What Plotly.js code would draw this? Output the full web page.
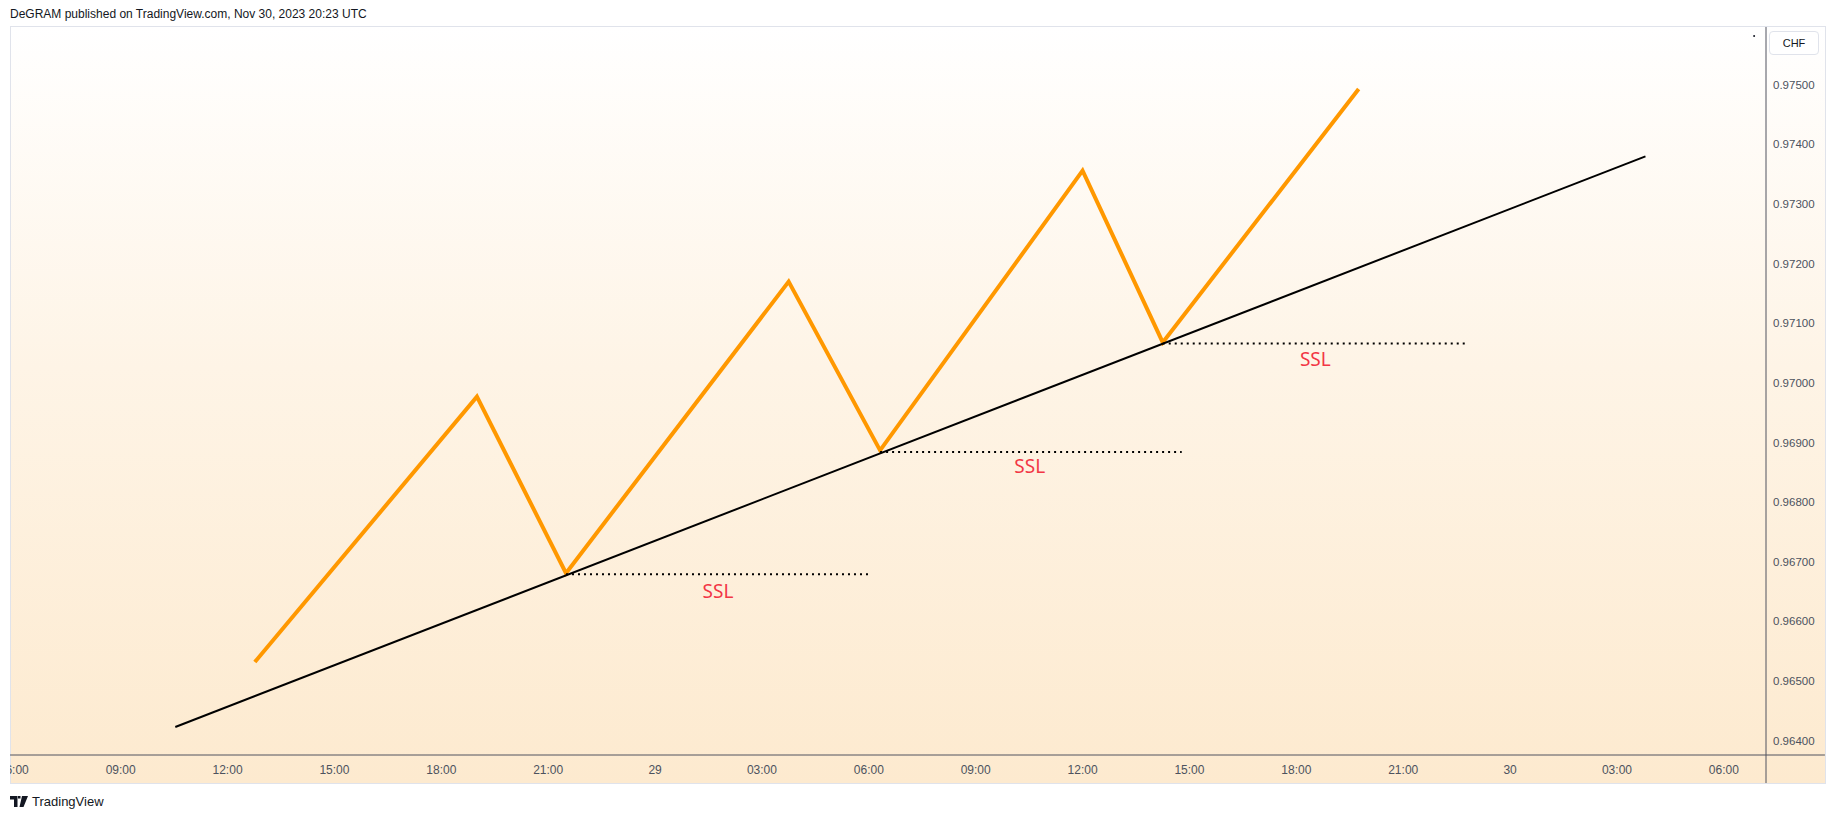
<!DOCTYPE html>
<html>
<head>
<meta charset="utf-8">
<script src="https://cdn.plot.ly/plotly-3.0.1.min.js"></script>
<style>
  html, body { margin: 0; padding: 0; background: #ffffff; }
  body { width: 1835px; height: 818px; position: relative; overflow: hidden; font-family: "Liberation Sans", Arial, sans-serif; }
  #frame { position: absolute; left: 10px; top: 26px; width: 1814px; height: 756px;
           border: 1px solid #e0e3eb;
           background: linear-gradient(to bottom, #ffffff 0%, #fef4e6 45%, #fdeacf 100%); }
  #chart { position: absolute; left: 0; top: 0; width: 1835px; height: 818px; }
  #header { position: absolute; left: 10px; top: 7px; font-size: 12px; color: #131722; white-space: nowrap; }
  #logo { position: absolute; left: 10px; top: 794px; display: flex; align-items: center; font-size: 13px; color: #131722; }
  #logo svg { margin-right: 4px; }
  #leftmask { position: absolute; left: 0; top: 740px; width: 10px; height: 45px; background: #ffffff; }
  #chf { position: absolute; left: 1769px; top: 31px; width: 50px; height: 24px; box-sizing: border-box;
         border: 1px solid #e0e3eb; border-radius: 4px; background: #ffffff;
         font-size: 11px; color: #131722; display: flex; align-items: center; justify-content: center; }
</style>
</head>
<body>
<div id="frame"></div>
<div id="chart"></div>
<div id="leftmask"></div>
<div id="chf">CHF</div>
<div id="header">DeGRAM published on TradingView.com, Nov 30, 2023 20:23 UTC</div>
<div id="logo">
  <svg width="18" height="11" viewBox="0 0 36 22"><path d="M0 0h15v22h-7V7H0z M16 0h5v5h-5z M24 0h12L27 22h-8z" fill="#131722"/></svg>
  <span>TradingView</span>
</div>
<script>
// ---- data ----
const pathTimes  = ['2023-11-28 12:46','2023-11-28 19:00','2023-11-28 21:30','2023-11-29 03:45',
                    '2023-11-29 06:19','2023-11-29 12:00','2023-11-29 14:15','2023-11-29 19:45'];
const pathPrices = [0.96532, 0.96977, 0.96681, 0.97170, 0.96887, 0.97356, 0.97068, 0.97493];

const trendTimes  = ['2023-11-28 10:32','2023-11-30 03:48'];
const trendPrices = [0.96423, 0.97380];

const sslStartTimes = ['2023-11-28 21:30','2023-11-29 06:19','2023-11-29 14:15'];
const sslEndTimes   = ['2023-11-29 06:00','2023-11-29 14:47','2023-11-29 22:44'];
const sslLevels     = [0.96679, 0.96884, 0.97066];

const sslLabelTimes  = ['2023-11-29 01:46','2023-11-29 10:31','2023-11-29 18:32'];
const sslLabelPrices = [0.96648, 0.96857, 0.97036];
const sslLabelText   = ['SSL','SSL','SSL'];

const dotTimes = ['2023-11-30 06:51'];
const dotPrices = [0.97582];

const xTickVals = ['2023-11-28 06:00','2023-11-28 09:00','2023-11-28 12:00','2023-11-28 15:00','2023-11-28 18:00',
                   '2023-11-28 21:00','2023-11-29 00:00','2023-11-29 03:00','2023-11-29 06:00','2023-11-29 09:00',
                   '2023-11-29 12:00','2023-11-29 15:00','2023-11-29 18:00','2023-11-29 21:00','2023-11-30 00:00',
                   '2023-11-30 03:00','2023-11-30 06:00'];
const xTickText = ['06:00','09:00','12:00','15:00','18:00','21:00','29','03:00','06:00','09:00',
                   '12:00','15:00','18:00','21:00','30','03:00','06:00'];

const yTickVals = [0.964, 0.965, 0.966, 0.967, 0.968, 0.969, 0.970, 0.971, 0.972, 0.973, 0.974, 0.975];
const yTickText = ['0.96400','0.96500','0.96600','0.96700','0.96800','0.96900',
                   '0.97000','0.97100','0.97200','0.97300','0.97400','0.97500'];

const xRange = ['2023-11-28 05:57','2023-11-30 07:11'];
const yRange = [0.96376, 0.97597];

// ---- traces ----
const traces = [];
traces.push({
  x: pathTimes, y: pathPrices, type: 'scatter', mode: 'lines',
  line: { color: '#ff9800', width: 4 }, hoverinfo: 'skip', showlegend: false
});
traces.push({
  x: trendTimes, y: trendPrices, type: 'scatter', mode: 'lines',
  line: { color: '#000000', width: 2 }, hoverinfo: 'skip', showlegend: false
});
for (let i = 0; i < sslLevels.length; i++) {
  traces.push({
    x: [sslStartTimes[i], sslEndTimes[i]], y: [sslLevels[i], sslLevels[i]],
    type: 'scatter', mode: 'lines',
    line: { color: '#000000', width: 2, dash: '2px,4px' }, hoverinfo: 'skip', showlegend: false
  });
}
traces.push({
  x: sslLabelTimes, y: sslLabelPrices, text: sslLabelText, type: 'scatter', mode: 'text',
  textposition: 'middle center',
  textfont: { family: 'Noto Sans, sans-serif', size: 19, color: '#f23645' },
  hoverinfo: 'skip', showlegend: false
});
traces.push({
  x: dotTimes, y: dotPrices, type: 'scatter', mode: 'markers',
  marker: { color: '#131722', size: 2 }, hoverinfo: 'skip', showlegend: false
});

const axisColor = '#50535e';
const layout = {
  width: 1835, height: 818,
  margin: { l: 12, r: 69, t: 27, b: 63, pad: 0 },
  paper_bgcolor: 'rgba(0,0,0,0)',
  plot_bgcolor: 'rgba(0,0,0,0)',
  showlegend: false,
  xaxis: {
    type: 'date', range: xRange, tickmode: 'array', tickvals: xTickVals, ticktext: xTickText,
    showgrid: false, zeroline: false, showline: false, ticks: '',
    tickfont: { family: 'Liberation Sans, Arial, sans-serif', size: 12, color: '#4c525e' },
    ticklabelstandoff: 6, ticklabeloverflow: 'allow', fixedrange: true
  },
  yaxis: {
    side: 'right', range: yRange, tickmode: 'array', tickvals: yTickVals, ticktext: yTickText,
    showgrid: false, zeroline: false, showline: false, ticks: '',
    tickfont: { family: 'Liberation Sans, Arial, sans-serif', size: 11.5, color: '#4c525e' },
    ticklabelstandoff: 6, fixedrange: true
  },
  shapes: [
    { type: 'line', xref: 'paper', yref: 'paper', x0: -0.0011, x1: 1.0336, y0: 0, y1: 0,
      line: { color: axisColor, width: 1 } },
    { type: 'line', xref: 'paper', yref: 'paper', x0: 1, x1: 1, y0: 1, y1: -0.0385,
      line: { color: axisColor, width: 1 } }
  ]
};

Plotly.newPlot('chart', traces, layout, { displayModeBar: false, staticPlot: true });
</script>
</body>
</html>
